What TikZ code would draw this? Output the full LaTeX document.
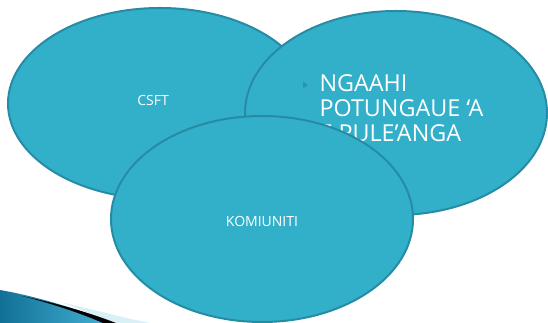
\documentclass[tikz,border=0pt]{standalone}
\usepackage{fontspec}
\newfontfamily\slidefont{Open Sans}

\definecolor{bubblefill}{RGB}{51,176,201}
\definecolor{bubbleline}{RGB}{38,140,165}
\definecolor{bulletblue}{RGB}{40,148,180}
\definecolor{swooshdark}{RGB}{18,112,150}
\definecolor{swooshlight}{RGB}{70,180,215}

\tikzset{every picture/.style={line width=0.75pt}}
\tikzset{
  bubble/.style={draw=bubbleline, fill=bubblefill, line width=1.5},
  smalllabel/.style={text=white, font=\slidefont\fontsize{10.5}{12}\selectfont, inner sep=0},
  biglabel/.style={text=white, font=\slidefont\fontsize{17.5}{18.75}\selectfont, align=left, inner sep=0}
}

\begin{document}
\begin{tikzpicture}[x=0.75pt,y=0.75pt,yscale=-1,xscale=1]
	%set diagram left start at 0, and has height of 323
	\useasboundingbox (0,0) rectangle (548,323);

	%Shape: Swoosh
	\shade [left color=swooshdark, right color=swooshlight] (0,290) .. controls (40,297) and (80,310) .. (114,323) -- (0,323) -- cycle ;
	\fill [white!80!swooshlight] (60,302) .. controls (95,310) and (125,318) .. (150,323) -- (112,323) .. controls (95,316) and (78,308) .. (60,302) -- cycle ;
	\fill [black] (22,296) .. controls (60,304) and (90,313) .. (116,323) -- (103,323) .. controls (80,313) and (50,303) .. (22,296) -- cycle ;

	%Shape: Ellipse
	\draw [bubble] (160,103.5) ellipse [x radius=152, y radius=95.5] ;
	% Text Node
	\node [smalllabel] (csft) at (153,101) {CSFT};

	%Shape: Ellipse
	\draw [bubble] (396,113) ellipse [x radius=151, y radius=102] ;
	%Shape: Bullet
	\fill [bulletblue] (303,81.5) -- (308,85) -- (303,88.5) -- cycle ;
	% Text Node
	\node [biglabel, anchor=base west] (potungaue) at (319,141.7) {NGAAHI\\POTUNGAUE ‘A\\E PULE’ANGA};

	%Shape: Ellipse
	\draw [bubble] (262,219) ellipse [x radius=151, y radius=103] ;
	% Text Node
	\node [smalllabel] (komiuniti) at (262,221) {KOMIUNITI};

\end{tikzpicture}
\end{document}
